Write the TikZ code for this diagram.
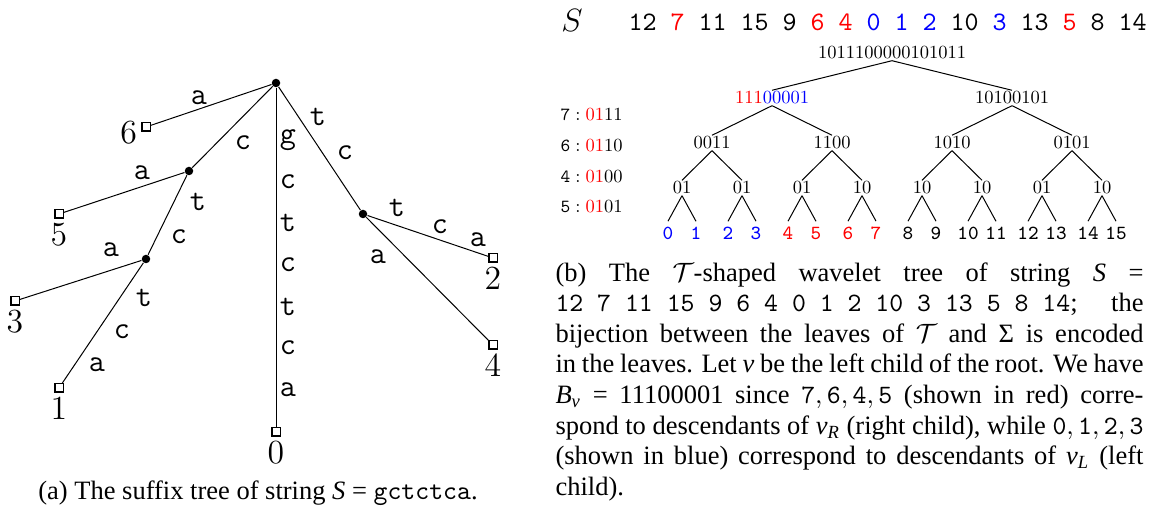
\documentclass[tikz,border=0pt]{standalone}
\usepackage{fix-cm}
\usepackage{amsmath, amssymb}
\usepackage{graphicx}
\usepackage[no-math]{fontspec}
\setmainfont{Liberation Serif}
\usepackage{tikz}
\usetikzlibrary{calc, positioning}
\usepackage{xcolor}

% 缩小的 10pt 数字串
\newcommand{\bitstr}[1]{\scalebox{0.74}{$#1$}}

\tikzset{
  inner/.style={circle, fill=black, inner sep=0pt, minimum size=3.4pt},
  leafbox/.style={draw, rectangle, inner sep=0pt, minimum size=3.3pt, line width=0.5pt},
  leafnum/.style={inner sep=0.5pt, font=\fontsize{13.5}{15}\selectfont},
  edgechar/.style={inner sep=0pt, font=\fontsize{12.5}{14}\selectfont\ttfamily},
  bits/.style={inner sep=0.5pt, font=\fontsize{10}{12}\selectfont},
  wleaf/.style={inner sep=2pt, font=\fontsize{8}{9}\selectfont\ttfamily},
  code/.style={anchor=west, inner sep=0pt, font=\fontsize{10}{12}\selectfont},
  caption/.style={inner sep=0pt, font=\fontsize{10.6}{12.24}\selectfont},
}

\begin{document}
\begin{tikzpicture}[x=0.4pt, y=-0.4pt]
    \useasboundingbox (0,0) rectangle (1151,510);

    % 后缀树: 内部结点
    \node[inner] (r) at (276,83) {};
    \node[inner] (u) at (189,171) {};
    \node[inner] (v) at (146,259) {};
    \node[inner] (w) at (363,214) {};
    % 叶子
    \node[leafbox] (s6) at (146,127) {};
    \node[leafbox] (s5) at (59,214) {};
    \node[leafbox] (s3) at (15,301) {};
    \node[leafbox] (s1) at (59,388) {};
    \node[leafbox] (s0) at (276,432) {};
    \node[leafbox] (s2) at (493,258) {};
    \node[leafbox] (s4) at (493,345) {};

    % 边
    \foreach \a/\b in {r/s6, r/u, u/s5, u/v, v/s3, v/s1, r/s0, r/w, w/s2, w/s4}
        \draw (\a) -- (\b);

    % 叶子编号
    \node[leafnum, left=1pt of s6, yshift=-2.4pt] (n6) {$6$};
    \foreach \i in {5,3,1,0,2,4}
        \node[leafnum, below=1.5pt of s\i] (n\i) {$\i$};

    % 边上的字符
    \foreach \ch/\x/\y [count=\i] in {a/199/98, c/243/143, a/142/173, t/198/202,
        c/179/237, a/111/250, t/144/298, c/122/332, a/97/365, t/318/117,
        c/345/153, t/397/208, c/440/227, a/478/240, a/378/257}
        \node[edgechar] (c\i) at (\x,\y) {\ch};
    \foreach \ch [count=\i] in {g,c,t,c,t,c,a}
        \node[edgechar] (g\i) at (288,98+41.7*\i) {\ch};

    \node[caption] (capa) at (258,493)
        {(a) The suffix tree of string \textit{S} = \texttt{gctctca}.};

    % 小波树: 串 S
    \node[font=\fontsize{12.9}{14}\selectfont, inner sep=0pt] (slabel) at (572,20) {$S$};
    \node[anchor=west, inner sep=0pt, font=\fontsize{10.67}{12}\selectfont\ttfamily] (seq) at (628,22)
        {12 \textcolor{red}{7} 11 15 9 \textcolor{red}{6} \textcolor{red}{4} \textcolor{blue}{0}
         \textcolor{blue}{1} \textcolor{blue}{2} 10 \textcolor{blue}{3} 13 \textcolor{red}{5} 8 14};

    % 各层位向量
    \node[bits] (wr) at (892,53) {\bitstr{1011100000101011}};
    \node[bits] (wa1) at (772,98) {\bitstr{\textcolor{red}{111}\textcolor{blue}{00001}}};
    \node[bits] (wa2) at (1012,98) {\bitstr{10100101}};
    \foreach \t [count=\i] in {0011,1100,1010,0101}
        \node[bits] (wb\i) at (592+120*\i,143) {\bitstr{\t}};
    \foreach \t [count=\i] in {01,01,01,10,10,10,01,10}
        \node[bits] (wc\i) at (622+60*\i,188) {\bitstr{\t}};
    \foreach \c [count=\i from 0, evaluate=\i as \x using {668+60*int(\i/2)+28*mod(\i,2)}]
        in {blue,blue,blue,blue,red,red,red,red,black,black,black,black,black,black,black,black}
        \node[wleaf, text=\c] (wl\i) at (\x,233) {\i};

    % 树边
    \foreach \i in {1,2}
        \draw (wr.south) -- (wa\i.north);
    \foreach \i in {1,...,4} {
        \pgfmathtruncatemacro\p{(\i+1)/2}
        \draw (wa\p.south) -- (wb\i.north);
    }
    \foreach \i in {1,...,8} {
        \pgfmathtruncatemacro\p{(\i+1)/2}
        \draw (wb\p.south) -- (wc\i.north);
    }
    \foreach \i in {0,...,15} {
        \pgfmathtruncatemacro\p{\i/2+1}
        \draw (wc\p.south) -- (wl\i.north);
    }

    % 叶子编码
    \foreach \s/\b [count=\i] in {7/11, 6/10, 4/00, 5/01}
        \node[code] (k\s) at (560,84.3+30.7*\i) {\bitstr{\texttt{\s}:\textcolor{red}{01}\b}};

    \node[caption, anchor=north west, text width=235.2pt, align=justify] (capb) at (555,262)
        {\hbadness=10000 (b) The $\mathcal{T}$-shaped wavelet tree of string \textit{S} =\linebreak
         \texttt{12 7 11 15 9 6 4 0 1 2 10 3 13 5 8 14}; the\linebreak
         bijection between the leaves of $\mathcal{T}$ and Σ is encoded\linebreak
         in the leaves. Let \textit{v} be the left child of the root. We have\linebreak
         $\textit{B}_{\textit{v}}$ = 11100001 since $\texttt{7}, \texttt{6}, \texttt{4}, \texttt{5}$ (shown in red) corre-\linebreak
         spond to descendants of $\textit{v}_{\textit{R}}$ (right child), while $\texttt{0}, \texttt{1}, \texttt{2}, \texttt{3}$\linebreak
         (shown in blue) correspond to descendants of $\textit{v}_{\textit{L}}$ (left\linebreak
         child).};
\end{tikzpicture}
\end{document}
